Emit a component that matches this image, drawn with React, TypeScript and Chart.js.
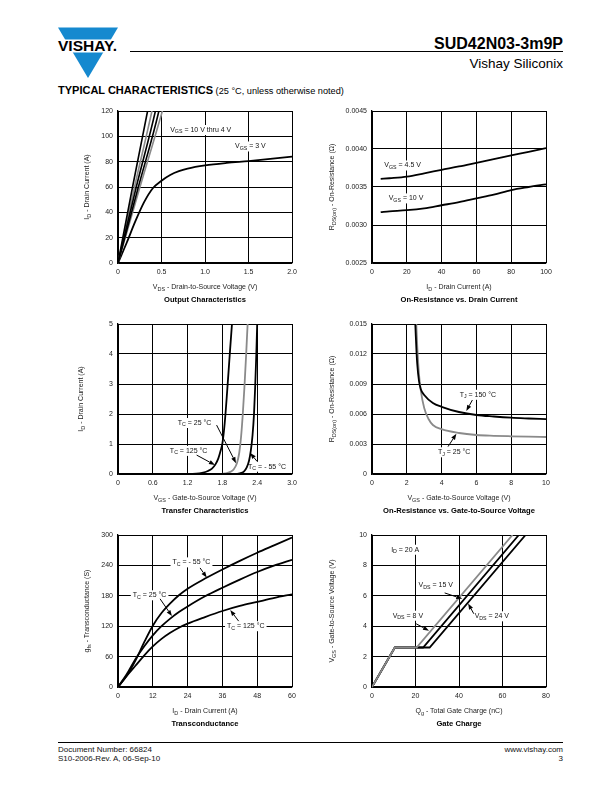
import React, { useEffect, useRef } from "react";
import { Chart, registerables } from "chart.js";
Chart.register(...registerables);

const FONT = '"Liberation Sans", Arial, Helvetica, sans-serif';
const BLACK = "#000000";
const GRAY = "#8a8a8a";

type Pt = [number, number];

// ---------- 1. Output characteristics ----------
const outXTicks = [0, 0.5, 1.0, 1.5, 2.0];
const outXLabels = ["0", "0.5", "1.0", "1.5", "2.0"];
const outYTicks = [0, 20, 40, 60, 80, 100, 120];
const outYLabels = ["0", "20", "40", "60", "80", "100", "120"];
const outVgs10: Pt[] = [[0, 0], [0.17, 61], [0.34, 120], [0.37, 130]];
const outVgs8: Pt[] = [[0, 0], [0.19, 60], [0.39, 120], [0.42, 130]];
const outVgs6: Pt[] = [[0, 0], [0.21, 60], [0.43, 120], [0.46, 130]];
const outVgs5: Pt[] = [[0, 0], [0.23, 59], [0.47, 120], [0.5, 130]];
const outVgs4: Pt[] = [[0, 0], [0.24, 57], [0.51, 120], [0.55, 130]];
const outVgs3: Pt[] = [[0, 0], [0.1, 16], [0.2, 33], [0.3, 48], [0.4, 59], [0.5, 65], [0.6, 69.5], [0.7, 72.5], [0.8, 74.5], [1.0, 77], [1.25, 79], [1.5, 80.5], [1.75, 82.2], [2.0, 84]];

// ---------- 2. On-resistance vs drain current ----------
const rdiXTicks = [0, 20, 40, 60, 80, 100];
const rdiXLabels = ["0", "20", "40", "60", "80", "100"];
const rdiYTicks = [0.0025, 0.003, 0.0035, 0.004, 0.0045];
const rdiYLabels = ["0.0025", "0.0030", "0.0035", "0.0040", "0.0045"];
const rdiVgs45: Pt[] = [[5, 0.003606], [10, 0.003615], [20, 0.003637], [30, 0.00368], [40, 0.003726], [50, 0.00377], [60, 0.003819], [70, 0.003868], [80, 0.003916], [90, 0.003963], [100, 0.004013]];
const rdiVgs10: Pt[] = [[5, 0.00317], [10, 0.00318], [20, 0.003195], [30, 0.00322], [40, 0.00326], [50, 0.0033], [60, 0.00335], [70, 0.0034], [80, 0.00346], [90, 0.0035], [100, 0.003535]];

// ---------- 3. Transfer characteristics ----------
const trXTicks = [0, 0.6, 1.2, 1.8, 2.4, 3.0];
const trXLabels = ["0", "0.6", "1.2", "1.8", "2.4", "3.0"];
const trYTicks = [0, 1, 2, 3, 4, 5];
const trYLabels = ["0", "1", "2", "3", "4", "5"];
const trTc125: Pt[] = [[0, 0], [1.2, 0], [1.35, 0.01], [1.45, 0.04], [1.55, 0.1], [1.62, 0.18], [1.68, 0.32], [1.73, 0.52], [1.77, 0.78], [1.8, 1.02], [1.84, 1.7], [1.88, 2.7], [1.92, 3.8], [1.965, 5.0], [2.0, 5.8]];
const trTc25: Pt[] = [[0, 0], [1.7, 0], [1.85, 0.02], [1.95, 0.08], [2.0, 0.17], [2.05, 0.36], [2.09, 0.7], [2.12, 1.2], [2.15, 1.95], [2.18, 2.9], [2.21, 4.0], [2.235, 5.0], [2.26, 5.8]];
const trTcM55: Pt[] = [[0, 0], [2.0, 0], [2.1, 0.02], [2.17, 0.08], [2.22, 0.22], [2.26, 0.45], [2.29, 0.78], [2.32, 1.3], [2.345, 2.0], [2.365, 2.9], [2.385, 4.0], [2.4, 5.0], [2.42, 5.8]];

// ---------- 4. On-resistance vs gate-to-source voltage ----------
const rdvXTicks = [0, 2, 4, 6, 8, 10];
const rdvXLabels = ["0", "2", "4", "6", "8", "10"];
const rdvYTicks = [0, 0.003, 0.006, 0.009, 0.012, 0.015];
const rdvYLabels = ["0", "0.003", "0.006", "0.009", "0.012", "0.015"];
const rdvTj150: Pt[] = [[2.45, 0.0165], [2.5, 0.0145], [2.55, 0.0125], [2.6, 0.011], [2.7, 0.0093], [2.8, 0.0085], [3.0, 0.0079], [3.5, 0.0071], [4, 0.00672], [5, 0.0062], [6, 0.0059], [7, 0.00575], [8, 0.00563], [9, 0.00555], [10, 0.00548]];
const rdvTj25: Pt[] = [[2.5, 0.0165], [2.55, 0.0148], [2.6, 0.0128], [2.7, 0.01], [2.8, 0.0084], [3.0, 0.0066], [3.25, 0.0055], [3.5, 0.0049], [4, 0.00448], [5, 0.0041], [6, 0.0039], [7, 0.00382], [8, 0.00377], [9, 0.00373], [10, 0.0037]];

// ---------- 5. Transconductance ----------
const gfsXTicks = [0, 12, 24, 36, 48, 60];
const gfsXLabels = ["0", "12", "24", "36", "48", "60"];
const gfsYTicks = [0, 60, 120, 180, 240, 300];
const gfsYLabels = ["0", "60", "120", "180", "240", "300"];
const gfsTcM55: Pt[] = [[0, 0], [3, 22], [6, 52], [9, 88], [12, 121], [15, 146], [18, 165], [21, 181], [24, 194], [30, 214], [36, 232], [42, 249], [48, 265], [54, 280], [60, 295]];
const gfsTc25: Pt[] = [[0, 0], [3, 25], [6, 55], [9, 80], [12, 102], [15, 120], [18, 135], [21, 148], [24, 159], [30, 179], [36, 196], [42, 212], [48, 227], [54, 240], [60, 251]];
const gfsTc125: Pt[] = [[0, 0], [3, 22], [6, 42], [9, 62], [12, 80], [15, 95], [18, 107], [21, 117], [24, 125], [30, 138], [36, 150], [42, 160], [48, 168], [54, 176], [60, 183]];

// ---------- 6. Gate charge ----------
const gcXTicks = [0, 20, 40, 60, 80];
const gcXLabels = ["0", "20", "40", "60", "80"];
const gcYTicks = [0, 2, 4, 6, 8, 10];
const gcYLabels = ["0", "2", "4", "6", "8", "10"];
const gcVds8: Pt[] = [[0, 0], [10.5, 2.6], [20.5, 2.6], [64.6, 10]];
const gcVds15: Pt[] = [[0, 0], [10.5, 2.6], [23.5, 2.6], [67.5, 10]];
const gcVds24: Pt[] = [[0, 0], [10.5, 2.6], [26.5, 2.6], [70.6, 10]];

// ---------- helpers ----------
type Note = { text: string; x: number; y: number; align?: "left" | "center" | "right" };
type Arrow = { x1: number; y1: number; x2: number; y2: number };
type Series = { data: Pt[]; color: string; width?: number; straight?: boolean };
type Rect = { left: number; top: number; right: number; bottom: number };
type PanelDef = {
  plot: Rect;
  x: [number, number];
  y: [number, number];
  xTicks: number[];
  xLabels: string[];
  yTicks: number[];
  yLabels: string[];
  series: Series[];
  notes: Note[];
  arrows: Arrow[];
};

function parseRich(s: string): { t: string; sub: boolean }[] {
  const out: { t: string; sub: boolean }[] = [];
  const re = /_\{([^}]*)\}/g;
  let last = 0;
  let m: RegExpExecArray | null;
  while ((m = re.exec(s))) {
    if (m.index > last) out.push({ t: s.slice(last, m.index), sub: false });
    out.push({ t: m[1], sub: true });
    last = re.lastIndex;
  }
  if (last < s.length) out.push({ t: s.slice(last), sub: false });
  return out;
}

const NOTE_SIZE = 7;

function notesPlugin(notes: Note[], arrows: Arrow[]) {
  return {
    id: "notes",
    beforeDatasetsDraw(chart: any) {
      const ctx = chart.ctx as CanvasRenderingContext2D;
      const xs = chart.scales.x;
      const ys = chart.scales.y;
      ctx.save();
      for (const n of notes) {
        const segs = parseRich(n.text);
        const sub = NOTE_SIZE * 0.75;
        let w = 0;
        const widths: number[] = [];
        for (const sg of segs) {
          ctx.font = `${sg.sub ? sub : NOTE_SIZE}px ${FONT}`;
          const ww = ctx.measureText(sg.t).width;
          widths.push(ww);
          w += ww;
        }
        const px = xs.getPixelForValue(n.x);
        const py = ys.getPixelForValue(n.y);
        let sx = px;
        if (n.align === "center") sx = px - w / 2;
        else if (n.align === "right") sx = px - w;
        ctx.fillStyle = "#ffffff";
        ctx.fillRect(sx - 2, py - 5, w + 4, 10);
        ctx.fillStyle = "#111";
        ctx.textBaseline = "middle";
        ctx.textAlign = "left";
        let cx = sx;
        segs.forEach((sg, i) => {
          ctx.font = `${sg.sub ? sub : NOTE_SIZE}px ${FONT}`;
          ctx.fillText(sg.t, cx, sg.sub ? py + 2 : py);
          cx += widths[i];
        });
      }
      ctx.restore();
    },
    afterDatasetsDraw(chart: any) {
      const ctx = chart.ctx as CanvasRenderingContext2D;
      const xs = chart.scales.x;
      const ys = chart.scales.y;
      ctx.save();
      ctx.strokeStyle = "#000";
      ctx.fillStyle = "#000";
      ctx.lineWidth = 1;
      for (const a of arrows) {
        const x1 = xs.getPixelForValue(a.x1);
        const y1 = ys.getPixelForValue(a.y1);
        const x2 = xs.getPixelForValue(a.x2);
        const y2 = ys.getPixelForValue(a.y2);
        const ang = Math.atan2(y2 - y1, x2 - x1);
        const hl = 6;
        const hw = 2.2;
        const bx = x2 - hl * Math.cos(ang);
        const by = y2 - hl * Math.sin(ang);
        ctx.beginPath();
        ctx.moveTo(x1, y1);
        ctx.lineTo(bx, by);
        ctx.stroke();
        ctx.beginPath();
        ctx.moveTo(x2, y2);
        ctx.lineTo(bx + hw * Math.sin(ang), by - hw * Math.cos(ang));
        ctx.lineTo(bx - hw * Math.sin(ang), by + hw * Math.cos(ang));
        ctx.closePath();
        ctx.fill();
      }
      ctx.restore();
    },
  };
}

const PAD_L = 50;
const PAD_T = 10;
const PAD_R = 16;
const PAD_B = 22;

function Panel({ def }: { def: PanelDef }) {
  const ref = useRef<HTMLCanvasElement | null>(null);
  const w = def.plot.right - def.plot.left + PAD_L + PAD_R;
  const h = def.plot.bottom - def.plot.top + PAD_T + PAD_B;
  useEffect(() => {
    if (!ref.current) return;
    const tickFont = { family: FONT, size: 7 };
    const chart = new Chart(ref.current, {
      type: "line",
      data: {
        datasets: def.series.map((s) => ({
          data: s.data.map(([x, y]) => ({ x, y })),
          borderColor: s.color,
          borderWidth: s.width ?? 1.8,
          pointRadius: 0,
          fill: false,
          tension: 0,
          cubicInterpolationMode: s.straight ? "default" : "monotone",
        })),
      } as any,
      options: {
        animation: false,
        responsive: false,
        devicePixelRatio: 1,
        layout: { padding: { top: PAD_T, right: PAD_R, left: 0, bottom: 0 } },
        plugins: { legend: { display: false }, tooltip: { enabled: false } },
        scales: {
          x: {
            type: "linear",
            min: def.x[0],
            max: def.x[1],
            afterBuildTicks: (ax: any) => {
              ax.ticks = def.xTicks.map((v) => ({ value: v }));
            },
            afterFit: (s: any) => {
              s.height = PAD_B;
            },
            ticks: {
              autoSkip: false,
              maxRotation: 0,
              padding: 5,
              color: "#222",
              font: tickFont,
              callback: (_v: any, i: number) => def.xLabels[i],
            },
            grid: { color: "#000", lineWidth: 1, drawTicks: false },
            border: { color: "#000", width: 1.3 },
          },
          y: {
            type: "linear",
            min: def.y[0],
            max: def.y[1],
            afterBuildTicks: (ax: any) => {
              ax.ticks = def.yTicks.map((v) => ({ value: v }));
            },
            afterFit: (s: any) => {
              s.width = PAD_L;
            },
            ticks: {
              autoSkip: false,
              padding: 5,
              color: "#222",
              font: tickFont,
              callback: (_v: any, i: number) => def.yLabels[i],
            },
            grid: { color: "#000", lineWidth: 1, drawTicks: false },
            border: { color: "#000", width: 1.3 },
          },
        },
      } as any,
      plugins: [notesPlugin(def.notes, def.arrows)],
    });
    return () => chart.destroy();
  }, []);
  return (
    <canvas
      ref={ref}
      width={w}
      height={h}
      style={{ position: "absolute", left: def.plot.left - PAD_L, top: def.plot.top - PAD_T, width: w, height: h }}
    />
  );
}

function Rich({ text, sub = 5.5 }: { text: string; sub?: number }) {
  return (
    <>
      {parseRich(text).map((p, i) =>
        p.sub ? (
          <span key={i} style={{ fontSize: sub, verticalAlign: -2 }}>
            {p.t}
          </span>
        ) : (
          <span key={i}>{p.t}</span>
        )
      )}
    </>
  );
}

function Txt({
  text,
  x,
  y,
  size = 7,
  bold = false,
  anchor = "center",
  rotate = false,
  color = "#222",
}: {
  text: string;
  x: number;
  y: number;
  size?: number;
  bold?: boolean;
  anchor?: "left" | "center" | "right";
  rotate?: boolean;
  color?: string;
}) {
  const tx = anchor === "left" ? "0" : anchor === "right" ? "-100%" : "-50%";
  return (
    <div
      style={{
        position: "absolute",
        left: x,
        top: y,
        transform: `translate(${tx}, -50%)${rotate ? " rotate(-90deg)" : ""}`,
        whiteSpace: "nowrap",
        fontFamily: FONT,
        fontSize: size,
        fontWeight: bold ? 700 : 400,
        lineHeight: 1,
        color,
      }}
    >
      <Rich text={text} sub={size * 0.78} />
    </div>
  );
}

const P1: Rect = { left: 118, top: 111, right: 292, bottom: 263 };
const P2: Rect = { left: 372, top: 111, right: 546, bottom: 263 };
const P3: Rect = { left: 118, top: 324, right: 292, bottom: 474 };
const P4: Rect = { left: 372, top: 324, right: 546, bottom: 474 };
const P5: Rect = { left: 118, top: 535, right: 292, bottom: 687 };
const P6: Rect = { left: 372, top: 535, right: 546, bottom: 687 };

const panels: PanelDef[] = [
  {
    plot: P1, x: [0, 2], y: [0, 120], xTicks: outXTicks, xLabels: outXLabels, yTicks: outYTicks, yLabels: outYLabels,
    series: [
      { data: outVgs10, color: BLACK, width: 1.6 },
      { data: outVgs6, color: BLACK, width: 1.6 },
      { data: outVgs5, color: BLACK, width: 1.6 },
      { data: outVgs8, color: GRAY, width: 1.6 },
      { data: outVgs4, color: GRAY, width: 1.6 },
      { data: outVgs3, color: BLACK, width: 1.8 },
    ],
    notes: [
      { text: "V_{GS} = 10 V thru 4 V", x: 0.6, y: 105 },
      { text: "V_{GS} = 3 V", x: 1.345, y: 92 },
    ],
    arrows: [],
  },
  {
    plot: P2, x: [0, 100], y: [0.0025, 0.0045], xTicks: rdiXTicks, xLabels: rdiXLabels, yTicks: rdiYTicks, yLabels: rdiYLabels,
    series: [
      { data: rdiVgs45, color: BLACK },
      { data: rdiVgs10, color: BLACK },
    ],
    notes: [
      { text: "V_{GS} = 4.5 V", x: 7.1, y: 0.003783 },
      { text: "V_{GS} = 10 V", x: 9.6, y: 0.00335 },
    ],
    arrows: [],
  },
  {
    plot: P3, x: [0, 3], y: [0, 5], xTicks: trXTicks, xLabels: trXLabels, yTicks: trYTicks, yLabels: trYLabels,
    series: [
      { data: trTc125, color: BLACK },
      { data: trTcM55, color: BLACK },
      { data: trTc25, color: GRAY },
    ],
    notes: [
      { text: "T_{C} = 25 °C", x: 1.03, y: 1.7 },
      { text: "T_{C} = 125 °C", x: 0.894, y: 0.77 },
      { text: "T_{C} = - 55 °C", x: 2.243, y: 0.243 },
    ],
    arrows: [
      { x1: 1.7, y1: 1.63, x2: 2.035, y2: 0.36 },
      { x1: 1.356, y1: 0.63, x2: 1.672, y2: 0.3 },
      { x1: 2.398, y1: 0.42, x2: 2.28, y2: 0.7 },
    ],
  },
  {
    plot: P4, x: [0, 10], y: [0, 0.015], xTicks: rdvXTicks, xLabels: rdvXLabels, yTicks: rdvYTicks, yLabels: rdvYLabels,
    series: [
      { data: rdvTj150, color: BLACK },
      { data: rdvTj25, color: GRAY },
    ],
    notes: [
      { text: "T_{J} = 150 °C", x: 5.04, y: 0.00792 },
      { text: "T_{J} = 25 °C", x: 3.79, y: 0.00217 },
    ],
    arrows: [
      { x1: 5.77, y1: 0.0074, x2: 5.42, y2: 0.0063 },
      { x1: 4.37, y1: 0.00274, x2: 4.85, y2: 0.00402 },
    ],
  },
  {
    plot: P5, x: [0, 60], y: [0, 300], xTicks: gfsXTicks, xLabels: gfsXLabels, yTicks: gfsYTicks, yLabels: gfsYLabels,
    series: [
      { data: gfsTcM55, color: BLACK },
      { data: gfsTc25, color: BLACK },
      { data: gfsTc125, color: BLACK },
    ],
    notes: [
      { text: "T_{C} = - 55 °C", x: 18.8, y: 246 },
      { text: "T_{C} = 25 °C", x: 5.1, y: 181 },
      { text: "T_{C} = 125 °C", x: 37.6, y: 120 },
    ],
    arrows: [
      { x1: 28.3, y1: 235, x2: 30.6, y2: 216 },
      { x1: 14.5, y1: 174, x2: 18.6, y2: 140 },
      { x1: 41.6, y1: 130, x2: 38.7, y2: 152 },
    ],
  },
  {
    plot: P6, x: [0, 80], y: [0, 10], xTicks: gcXTicks, xLabels: gcXLabels, yTicks: gcYTicks, yLabels: gcYLabels,
    series: [
      { data: gcVds8, color: GRAY, straight: true },
      { data: gcVds15, color: BLACK, straight: true },
      { data: gcVds24, color: BLACK, straight: true },
    ],
    notes: [
      { text: "I_{D} = 20 A", x: 8.8, y: 9.03 },
      { text: "V_{DS} = 15 V", x: 21.4, y: 6.68 },
      { text: "V_{DS} = 8 V", x: 9.5, y: 4.69 },
      { text: "V_{DS} = 24 V", x: 47.2, y: 4.65 },
    ],
    arrows: [
      { x1: 33.4, y1: 6.19, x2: 41.5, y2: 5.8 },
      { x1: 20.3, y1: 4.16, x2: 26.2, y2: 3.7 },
      { x1: 46.8, y1: 4.82, x2: 44.2, y2: 5.49 },
    ],
  },
];

const xTitles = [
  "V_{DS} - Drain-to-Source Voltage (V)",
  "I_{D} - Drain Current (A)",
  "V_{GS} - Gate-to-Source Voltage (V)",
  "V_{GS} - Gate-to-Source Voltage (V)",
  "I_{D} - Drain Current (A)",
  "Q_{g} - Total Gate Charge (nC)",
];
const yTitles = [
  "I_{D} - Drain Current (A)",
  "R_{DS(on)} - On-Resistance (Ω)",
  "I_{D} - Drain Current (A)",
  "R_{DS(on)} - On-Resistance (Ω)",
  "g_{fs} - Transconductance (S)",
  "V_{GS} - Gate-to-Source Voltage (V)",
];
const chartTitles = [
  "Output Characteristics",
  "On-Resistance vs. Drain Current",
  "Transfer Characteristics",
  "On-Resistance vs. Gate-to-Source Voltage",
  "Transconductance",
  "Gate Charge",
];
const yTitleX = [87.5, 333, 81.5, 333, 88, 333];

export default function App() {
  return (
    <div style={{ position: "absolute", left: 0, top: 0, width: 612, height: 792, background: "#fff", overflow: "hidden" }}>
      {/* logo */}
      <svg width={70} height={60} style={{ position: "absolute", left: 52, top: 24 }}>
        <polygon points="6,3.5 66,3.5 36,54" fill="#1589cf" />
        <rect x={0} y={15.5} width={72} height={13} fill="#fff" />
        <text x={6} y={27} fontFamily={FONT} fontWeight={700} fontSize={14.5} fill="#000" textLength={59} lengthAdjust="spacingAndGlyphs">
          VISHAY.
        </text>
      </svg>
      <div style={{ position: "absolute", left: 130, top: 51, width: 433, height: 1, background: "#000" }} />
      <Txt text="SUD42N03-3m9P" x={563} y={43.5} size={16} bold anchor="right" color="#000" />
      <Txt text="Vishay Siliconix" x={563} y={64} size={13.5} anchor="right" color="#000" />
      <div
        style={{ position: "absolute", left: 58, top: 89, transform: "translateY(-50%)", whiteSpace: "nowrap", fontFamily: FONT, lineHeight: 1, color: "#000" }}
      >
        <span style={{ fontSize: 11, fontWeight: 700 }}>TYPICAL CHARACTERISTICS</span>
        <span style={{ fontSize: 9.2 }}> (25 °C, unless otherwise noted)</span>
      </div>

      {panels.map((p, i) => (
        <Panel key={i} def={p} />
      ))}
      {panels.map((p, i) => (
        <React.Fragment key={"t" + i}>
          <Txt text={xTitles[i]} x={(p.plot.left + p.plot.right) / 2} y={p.plot.bottom + 24.5} />
          <Txt text={chartTitles[i]} x={(p.plot.left + p.plot.right) / 2} y={p.plot.bottom + 36.5} size={7.6} bold color="#000" />
          <Txt text={yTitles[i]} x={yTitleX[i]} y={(p.plot.top + p.plot.bottom) / 2} rotate />
        </React.Fragment>
      ))}

      {/* footer */}
      <div style={{ position: "absolute", left: 58, top: 742, width: 505, height: 1, background: "#000" }} />
      <Txt text="Document Number: 66824" x={58} y={749.5} size={8} anchor="left" color="#111" />
      <Txt text="S10-2006-Rev. A, 06-Sep-10" x={58} y={758.5} size={8} anchor="left" color="#111" />
      <Txt text="www.vishay.com" x={563} y={749.5} size={8} anchor="right" color="#111" />
      <Txt text="3" x={563} y={758.5} size={8} anchor="right" color="#111" />
    </div>
  );
}
